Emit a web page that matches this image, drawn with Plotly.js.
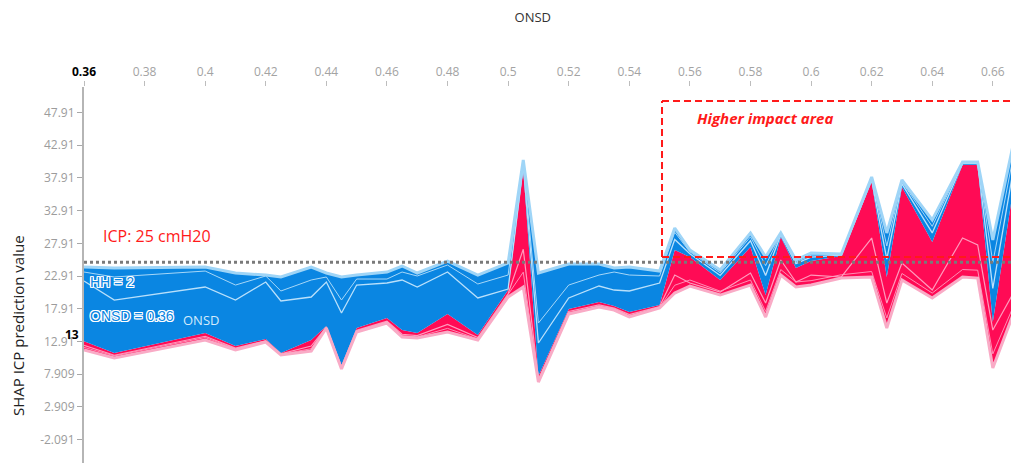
<!DOCTYPE html>
<html>
<head>
<meta charset="utf-8">
<script src="https://cdn.plot.ly/plotly-3.0.1.min.js"></script>
<style>html,body{margin:0;padding:0;background:#fff;}#chart{width:1011px;height:463px;}</style>
</head>
<body>
<div id="chart"></div>
<script>
// ONSD values (x) of each stacked force-plot column
const onsd = [0.36,0.37,0.40,0.41,0.42,0.425,0.435,0.44,0.445,0.45,
              0.46,0.465,0.47,0.48,0.49,0.50,0.505,0.51,0.52,0.53,
              0.535,0.54,0.55,0.555,0.56,0.57,0.58,0.585,0.59,0.595,
              0.60,0.61,0.62,0.625,0.63,0.64,0.65,0.655,0.66,0.667];
// lower edge of the red (positive) stack
const lowerEdge = [11.60,10.37,13.12,11.60,12.82,10.83,11.44,14.96,8.69,14.35,
                   15.72,13.58,13.43,14.35,13.12,19.70,21.23,6.70,17.10,18.17,
                   17.71,16.64,18.02,20.31,21.38,20.00,21.53,16.64,23.06,21.23,
                   21.53,22.60,22.76,14.96,22.30,19.55,22.76,22.60,8.84,17.40];
// model output (red / blue boundary)
const outputValue = [12.95,11.14,14.19,12.21,13.28,11.14,13.13,15.26,9.30,14.96,
                     16.49,14.65,14.19,17.10,13.89,20.77,39.12,7.62,17.86,18.93,
                     18.32,17.41,18.48,26.89,25.82,22.30,27.34,20.00,28.87,24.13,
                     25.20,25.97,37.28,22.76,36.52,28.11,39.88,39.88,15.88,37.00];
// upper edge of the blue (negative) stack
const upperEdge = [24.29,24.13,24.29,23.37,23.06,22.76,24.29,23.37,22.76,23.06,
                   23.52,24.44,23.37,25.20,23.06,24.90,40.65,23.37,24.74,24.74,
                   24.13,24.29,23.67,30.25,26.89,23.83,29.49,25.82,29.49,25.36,
                   26.43,26.27,38.05,29.49,37.59,31.47,40.34,40.34,28.41,43.60];
// feature boundaries inside the blue stack
const blueLineA = [22.15,19.24,21.23,19.24,21.99,19.09,19.70,21.99,17.25,21.53,
                   21.84,22.30,21.23,23.52,19.55,20.92,39.80,12.67,19.55,21.38,
                   20.77,20.62,21.84,28.50,26.30,23.00,28.30,23.00,29.20,24.80,
                   25.80,26.10,37.60,25.50,37.00,29.50,40.10,40.10,21.00,39.80];
const blueLineB = [23.52,22.76,23.67,21.53,22.91,20.62,22.30,22.76,19.24,22.45,
                   22.45,23.52,22.91,24.59,21.69,23.06,40.30,15.72,21.53,23.06,
                   23.52,23.06,22.91,29.60,26.60,23.40,28.90,24.50,29.30,25.00,
                   26.10,26.20,37.80,27.50,37.30,30.50,40.20,40.20,25.00,41.80];
// feature boundaries inside the red stack
const pinkLineA = [12.30,10.80,13.70,11.90,13.00,11.00,12.20,15.10,9.00,14.60,
                   16.00,14.00,13.80,15.50,13.50,20.20,27.00,7.10,17.50,18.50,
                   18.00,17.00,18.25,23.06,21.84,20.46,23.37,18.78,25.36,21.99,
                   23.06,22.76,28.72,18.78,24.90,20.77,28.72,27.65,14.65,20.50];
const pinkLineB = [12.00,10.70,13.50,11.80,13.00,10.95,11.80,15.05,8.90,14.50,
                   15.90,13.80,13.60,14.90,13.30,20.00,23.50,6.90,17.30,18.30,
                   17.90,16.80,18.10,21.50,22.30,20.60,22.30,17.50,23.90,22.00,
                   22.20,23.10,23.60,16.50,23.30,20.30,23.90,23.80,11.00,18.50];

const xTickVals = [0.36,0.38,0.40,0.42,0.44,0.46,0.48,0.50,0.52,0.54,0.56,0.58,0.60,0.62,0.64,0.66];
const xTickText = ['0.36','0.38','0.4','0.42','0.44','0.46','0.48','0.5','0.52','0.54','0.56','0.58','0.6','0.62','0.64','0.66'];
const yTickVals = [-2.091,2.909,7.909,12.91,17.91,22.91,27.91,32.91,37.91,42.91,47.91];
const yTickText = ['-2.091','2.909','7.909','12.91','17.91','22.91','27.91','32.91','37.91','42.91','47.91'];
const icpThreshold = 25;
const startValue = 13;

const RED = '#ff0b55', BLUE = '#0a86e2';
const base = {x: onsd, mode: 'lines', hoverinfo: 'skip', showlegend: false};

const traces = [
  Object.assign({}, base, {y: lowerEdge, line: {width: 0, color: RED}}),
  Object.assign({}, base, {y: outputValue, fill: 'tonexty', fillcolor: RED, line: {width: 0, color: RED}}),
  Object.assign({}, base, {y: upperEdge, fill: 'tonexty', fillcolor: BLUE, line: {width: 0, color: BLUE}}),
  Object.assign({}, base, {y: pinkLineB, line: {width: 1, color: '#ff8db4'}}),
  Object.assign({}, base, {y: pinkLineA, line: {width: 1.2, color: '#ff9bbd'}}),
  Object.assign({}, base, {y: blueLineA, line: {width: 1.3, color: '#b9e0fb'}}),
  Object.assign({}, base, {y: blueLineB, line: {width: 1, color: '#a6d7f8'}}),
  Object.assign({}, base, {y: upperEdge, line: {width: 3, color: '#9fd5f7'}}),
  Object.assign({}, base, {y: lowerEdge, line: {width: 3, color: '#f9abc6'}})
];

xTickText[0] = '<span style="color:#000"><b>0.36</b></span>';

const halo = '1px 1px 0 #fff, -1px -1px 0 #fff, 1px -1px 0 #fff, -1px 1px 0 #fff, 0 1px 0 #fff, 0 -1px 0 #fff, 1px 0 0 #fff, -1px 0 0 #fff';

const layout = {
  width: 1011, height: 463,
  margin: {l: 84, r: 0, t: 87, b: 0, pad: 0},
  paper_bgcolor: '#fff', plot_bgcolor: '#fff',
  font: {family: '"Open Sans", "Noto Sans", sans-serif', size: 12, color: '#333'},
  title: {text: 'ONSD', x: 0.527, xanchor: 'center', xref: 'container', y: 0.963, yanchor: 'middle', yref: 'container',
          font: {size: 13, color: '#333', family: '"Open Sans", sans-serif'}},
  xaxis: {side: 'top', range: [0.36, 0.666], tickvals: xTickVals, ticktext: xTickText,
          ticks: 'outside', ticklen: 5, tickwidth: 1, tickcolor: '#bdbdbd',
          tickfont: {size: 12, color: '#a3a3a3'}, showline: false, showgrid: false, zeroline: false, fixedrange: true},
  yaxis: {range: [-5.68, 51.81], tickvals: yTickVals, ticktext: yTickText,
          ticks: 'outside', ticklen: 5, tickwidth: 1, tickcolor: '#a8a8a8',
          tickfont: {size: 12, color: '#9c9c9c'}, showline: true, linecolor: '#b5b5b5', linewidth: 2,
          showgrid: false, zeroline: false, fixedrange: true},
  shapes: [
    {type: 'line', xref: 'x', yref: 'y', x0: 0.36, x1: 0.666, y0: icpThreshold, y1: icpThreshold,
     line: {color: '#7a7a7a', width: 3, dash: 'dot'}, layer: 'above'},
    {type: 'line', xref: 'x', yref: 'y', x0: 0.5508, x1: 0.5508, y0: 25.82, y1: 49.67,
     line: {color: '#ff1a1a', width: 2, dash: '7px,4px'}, layer: 'above'},
    {type: 'line', xref: 'x', yref: 'y', x0: 0.5508, x1: 0.666, y0: 49.67, y1: 49.67,
     line: {color: '#ff1a1a', width: 2, dash: '7px,4px'}, layer: 'above'},
    {type: 'line', xref: 'x', yref: 'y', x0: 0.5508, x1: 0.666, y0: 25.82, y1: 25.82,
     line: {color: '#ff1a1a', width: 2, dash: '7px,4px'}, layer: 'above'}
  ],
  annotations: [
    {xref: 'paper', yref: 'paper', x: -0.0712, y: 0.367, xanchor: 'center', yanchor: 'middle', textangle: -90,
     text: 'SHAP ICP prediction value', showarrow: false, font: {size: 15, color: '#222'}},
    {xref: 'x', yref: 'y', x: 0.3656, y: 29.0, xanchor: 'left', yanchor: 'middle', showarrow: false,
     text: 'ICP: 25 cmH20', font: {size: 16, color: '#ff1a1a'}},
    {xref: 'x', yref: 'y', x: 0.5617, y: 47.07, xanchor: 'left', yanchor: 'middle', showarrow: false,
     text: '<b><i>Higher impact area</i></b>', font: {size: 15, color: '#ff1a1a'}},
    {xref: 'x', yref: 'y', x: 0.3613, y: 21.99, xanchor: 'left', yanchor: 'middle', showarrow: false,
     text: 'HH = 2', font: {size: 14, color: BLUE, family: '"Liberation Sans", Arial, sans-serif', shadow: halo}},
    {xref: 'x', yref: 'y', x: 0.3613, y: 16.75, xanchor: 'left', yanchor: 'middle', showarrow: false,
     text: 'ONSD = 0.36', font: {size: 14, color: BLUE, family: '"Liberation Sans", Arial, sans-serif', shadow: halo}},
    {xref: 'x', yref: 'y', x: 0.3986, y: 16.18, xanchor: 'center', yanchor: 'middle', showarrow: false,
     text: 'ONSD', font: {size: 13, color: '#d3ebfc'}},
    {xref: 'x', yref: 'y', x: 0.36, y: startValue, xanchor: 'right', yanchor: 'middle', xshift: -3, yshift: 6,
     showarrow: false, text: '<b>' + startValue + '</b>', font: {size: 12, color: '#000'}}
  ]
};

Plotly.newPlot('chart', traces, layout, {displayModeBar: false, staticPlot: true});
</script>
</body>
</html>
